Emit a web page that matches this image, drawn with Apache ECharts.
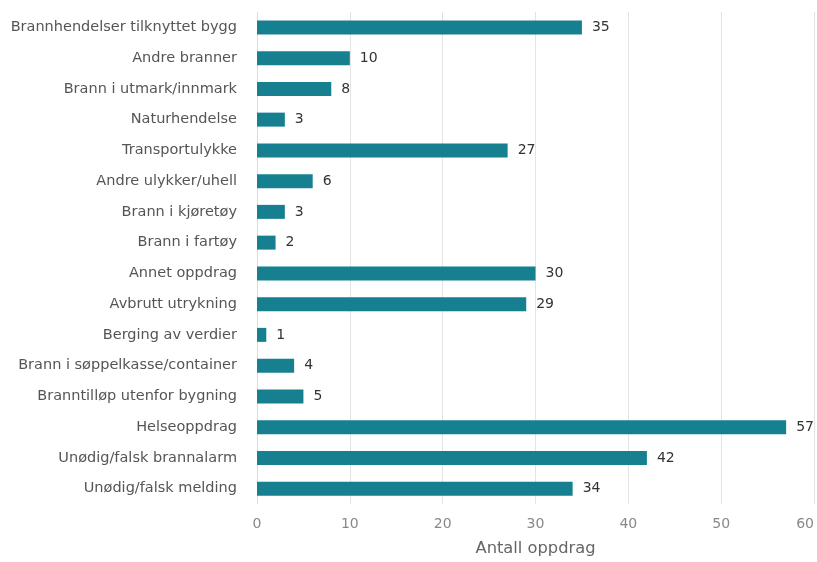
<!DOCTYPE html>
<html><head><meta charset="utf-8">
<script src="https://cdn.jsdelivr.net/npm/echarts@6/dist/echarts.min.js"></script>
<style>html,body{margin:0;padding:0;background:#fff;overflow:hidden}#c{width:817px;height:562px}</style>
</head><body><div id="c"></div>
<script>
const categories = ["Brannhendelser tilknyttet bygg","Andre branner","Brann i utmark/innmark","Naturhendelse","Transportulykke","Andre ulykker/uhell","Brann i kjøretøy","Brann i fartøy","Annet oppdrag","Avbrutt utrykning","Berging av verdier","Brann i søppelkasse/container","Branntilløp utenfor bygning","Helseoppdrag","Unødig/falsk brannalarm","Unødig/falsk melding"];
const values = [35,10,8,3,27,6,3,2,30,29,1,4,5,57,42,34];
const xTicks = [0,10,20,30,40,50,60];
const axisTitle = "Antall oppdrag";
const font = "DejaVu Sans";
const chart = echarts.init(document.getElementById('c'));
chart.setOption({
  animation:false,
  grid:{left:257,right:2,top:12,bottom:55.5,containLabel:false},
  xAxis:{type:'value',min:xTicks[0],max:xTicks[xTicks.length-1],interval:10,
    name:axisTitle,nameLocation:'middle',nameGap:37,
    nameTextStyle:{color:'#666',fontSize:16.3,fontFamily:font},
    axisLabel:{color:'#888',fontSize:14,fontFamily:font,margin:13.5,alignMaxLabel:'right'},
    axisLine:{show:false},axisTick:{show:false},
    splitLine:{lineStyle:{color:'#e3e3e3'}}},
  yAxis:{type:'category',data:categories,inverse:true,
    axisLabel:{color:'#555',fontSize:14.5,fontFamily:font,margin:20},
    axisLine:{lineStyle:{color:'#d8dde6'}},axisTick:{show:false}},
  series:[{type:'bar',data:values,barWidth:14,
    itemStyle:{color:'#168090'},
    label:{show:true,position:'right',distance:10,color:'#333',fontSize:14,fontFamily:font}}]
});
</script></body></html>
